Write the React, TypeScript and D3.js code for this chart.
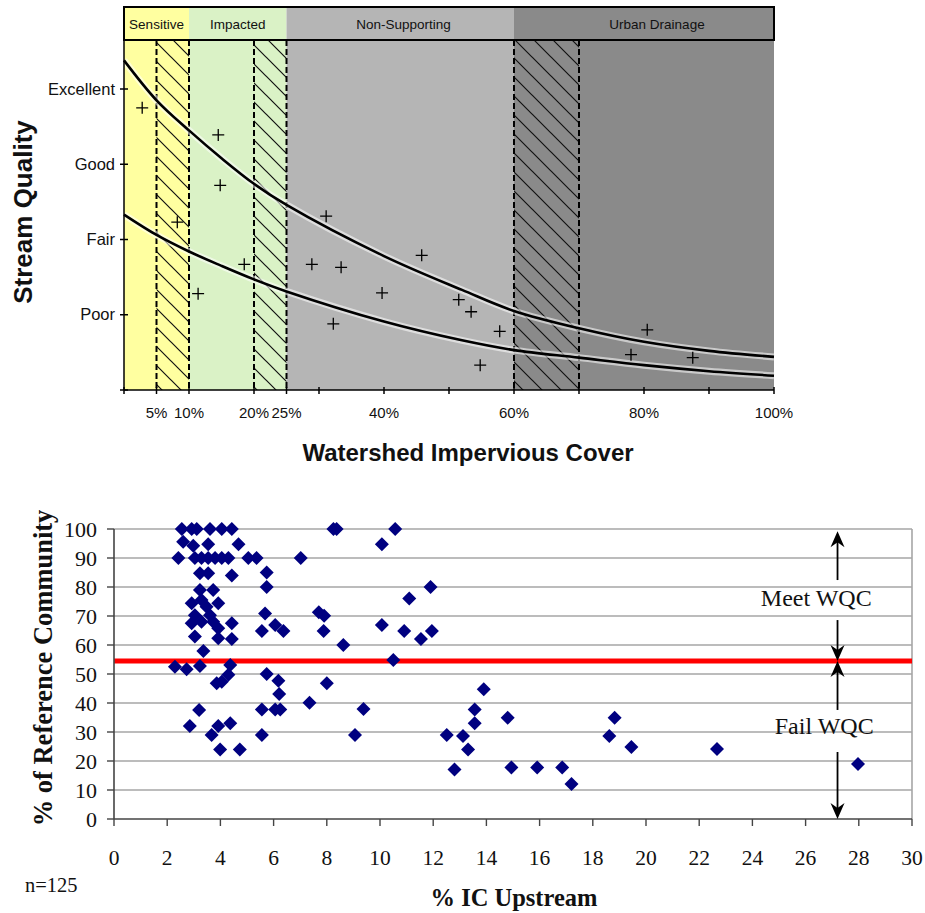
import { useMemo } from 'react';
import * as d3 from 'd3';

// ---- top panel: impervious cover model ----
const zoneNames = ['Sensitive', 'Impacted', 'Non-Supporting', 'Urban Drainage'];
const zoneStarts = [0, 10, 25, 60];
const zoneEnds = [10, 25, 60, 100];
const zoneLabelAt = [5, 17.5, 43, 82];
const zoneFills = ['#ffffa0', '#daf2c6', '#b5b5b5', '#8a8a8a'];
const hatchStarts = [5, 20, 60];
const hatchEnds = [10, 25, 70];
const dashedAt = [5, 10, 20, 25, 60, 70];
const coverTicks = [0, 5, 10, 20, 25, 30, 40, 50, 60, 70, 80, 90, 100];
const coverLabels = [5, 10, 20, 25, 40, 60, 80, 100];
const qualityTicks = [0, 1, 2, 3, 4];
const qualityNames = ['', 'Poor', 'Fair', 'Good', 'Excellent'];

const curvePct = [0, 5, 10, 15, 20, 25, 40, 52, 60, 70, 80, 90, 100];
const upperQuality = [4.38, 3.85, 3.45, 3.08, 2.74, 2.46, 1.78, 1.33, 1.05, 0.82, 0.64, 0.52, 0.44];
const lowerQuality = [2.33, 2.06, 1.84, 1.65, 1.47, 1.31, 0.91, 0.66, 0.53, 0.43, 0.33, 0.25, 0.19];

const sitePct = [2.8, 14.5, 14.8, 8.2, 18.5, 11.4, 31.1, 28.9, 33.4, 45.8, 39.7, 32.2, 51.5, 53.4, 57.8, 54.8, 80.5, 78.0, 87.5];
const siteQuality = [3.75, 3.39, 2.72, 2.23, 1.67, 1.28, 2.31, 1.67, 1.63, 1.79, 1.29, 0.88, 1.2, 1.04, 0.78, 0.33, 0.8, 0.47, 0.43];

// ---- bottom panel: % of reference community vs % IC upstream ----
const icUpstream = [
    2.55, 2.92, 3.11, 3.61, 4.05, 4.43, 8.25, 8.37, 10.57,
    2.6, 2.98, 3.54, 4.68, 10.07,
    2.42, 3.04, 3.29, 3.54, 3.8, 4.05, 4.3, 5.05, 5.36, 7.02,
    3.23, 3.54, 4.43, 5.74,
    5.74, 3.23, 3.73, 11.9, 11.1,
    2.92, 3.29, 3.48, 3.92, 3.04, 3.61, 2.92, 3.29, 3.73, 3.92, 4.43, 3.04, 3.92, 4.43, 3.36,
    5.68, 6.06, 5.56, 6.37, 7.7, 7.9, 7.88, 10.07, 10.91, 11.54, 11.95, 8.62, 10.5,
    2.29, 2.73, 3.23, 4.37, 4.3, 4.05, 3.86, 5.74, 6.18, 6.21, 5.56, 6.06, 6.25, 3.2, 2.85,
    3.92, 4.37, 3.67, 5.56, 3.99, 4.73,
    8.0, 7.35, 9.38, 9.06, 12.51,
    13.9, 13.56, 13.56, 13.12, 13.31, 12.8, 14.8, 14.94, 15.91, 16.85, 17.2, 18.82, 18.62, 19.45,
    22.67, 27.97,
];
const refCommunity = [
    100, 100, 100, 100, 100, 100, 100, 100, 100,
    95.6, 94.2, 94.7, 94.7, 94.7,
    90, 90, 90, 90, 90, 90, 90, 90, 90, 90,
    84.7, 84.7, 84, 85,
    80, 79, 79, 80, 76,
    74.4, 75.5, 73.2, 74.4, 70.3, 70.3, 67.5, 68, 68, 65.8, 67.5, 62.9, 62.3, 62.1, 57.9,
    70.9, 66.9, 64.8, 64.8, 71.3, 70.1, 64.8, 66.9, 64.8, 62.1, 64.8, 60, 54.8,
    52.5, 51.6, 52.8, 53.1, 49.7, 47.3, 46.8, 50, 47.7, 43.1, 37.8, 37.8, 37.8, 37.6, 32.1,
    32.1, 33, 29, 29, 24, 24,
    46.8, 40.1, 37.9, 29, 29,
    44.7, 37.8, 33, 28.6, 24, 17.1, 34.9, 17.8, 17.8, 17.8, 12.1, 34.9, 28.6, 24.8,
    24.1, 19,
];
const icTicks = d3.range(0, 31, 2);
const refTicks = d3.range(0, 101, 10);
const wqcThreshold = 54.5;
const arrowAt = 27.2;
// [from, to] — arrowhead at `to`
const arrowSegments: [number, number][] = [
    [82.4, 99.2],
    [68.6, 54.5],
    [37.6, 54.5],
    [23.1, 0],
];

const SANS = '"Liberation Sans", Arial, sans-serif';
const SERIF = '"Liberation Serif", "Times New Roman", serif';

function TopPanel() {
    const x = d3.scaleLinear().domain([0, 100]).range([124, 774]);
    const y = d3.scaleLinear().domain([0, 4]).range([390, 89]);
    const headTop = 7;
    const headBottom = 40;
    const plotBottom = 390;

    const line = d3
        .line<[number, number]>()
        .x((d) => x(d[0]))
        .y((d) => y(d[1]))
        .curve(d3.curveCatmullRom.alpha(0.5));
    const upper = line(curvePct.map((p, i) => [p, upperQuality[i]]));
    const lower = line(curvePct.map((p, i) => [p, lowerQuality[i]]));

    return (
        <g fontFamily={SANS}>
            <defs>
                <pattern id="hatch" patternUnits="userSpaceOnUse" width={19} height={19}>
                    <path
                        d="M-2,-2L21,21M-12,7L12,31M7,-12L31,12"
                        stroke="#111"
                        strokeWidth={1.2}
                    />
                </pattern>
            </defs>
            {zoneNames.map((name, i) => (
                <g key={name}>
                    <rect
                        x={x(zoneStarts[i])}
                        y={headTop}
                        width={x(zoneEnds[i]) - x(zoneStarts[i])}
                        height={plotBottom - headTop}
                        fill={zoneFills[i]}
                    />
                    <text
                        x={x(zoneLabelAt[i])}
                        y={29}
                        fontSize={13.5}
                        textAnchor="middle"
                        fill="#111"
                    >
                        {name}
                    </text>
                </g>
            ))}
            {hatchStarts.map((s, i) => (
                <rect
                    key={s}
                    x={x(s)}
                    y={headBottom}
                    width={x(hatchEnds[i]) - x(s)}
                    height={plotBottom - headBottom}
                    fill="url(#hatch)"
                />
            ))}
            {dashedAt.map((p) => (
                <line
                    key={p}
                    x1={x(p)}
                    x2={x(p)}
                    y1={headBottom}
                    y2={plotBottom}
                    stroke="#000"
                    strokeWidth={2}
                    strokeDasharray="6 3"
                />
            ))}
            <rect
                x={x(0)}
                y={headTop}
                width={x(100) - x(0)}
                height={headBottom - headTop}
                fill="none"
                stroke="#000"
                strokeWidth={2}
            />
            <path d={upper ?? ''} fill="none" stroke="#fff" strokeOpacity={0.55} strokeWidth={7} />
            <path d={lower ?? ''} fill="none" stroke="#fff" strokeOpacity={0.55} strokeWidth={7} />
            <path d={upper ?? ''} fill="none" stroke="#000" strokeWidth={2.6} />
            <path d={lower ?? ''} fill="none" stroke="#000" strokeWidth={2.6} />
            {sitePct.map((p, i) => {
                const cx = x(p);
                const cy = y(siteQuality[i]);
                return (
                    <path
                        key={i}
                        d={`M${cx - 6},${cy}h12M${cx},${cy - 6}v12`}
                        stroke="#000"
                        strokeWidth={1.3}
                    />
                );
            })}
            {/* axes */}
            <line x1={x(0)} x2={x(0)} y1={headBottom} y2={plotBottom} stroke="#000" strokeWidth={1.5} />
            <line x1={x(0)} x2={x(100)} y1={plotBottom} y2={plotBottom} stroke="#000" strokeWidth={1.5} />
            {qualityTicks.map((q) => (
                <g key={q}>
                    <line x1={x(0) - 4} x2={x(0) + 4} y1={y(q)} y2={y(q)} stroke="#000" strokeWidth={1.5} />
                    <text x={x(0) - 9} y={y(q) + 5.5} fontSize={16.5} textAnchor="end" fill="#111">
                        {qualityNames[q]}
                    </text>
                </g>
            ))}
            {coverTicks.map((p) => (
                <line key={p} x1={x(p)} x2={x(p)} y1={plotBottom - 3} y2={plotBottom + 4} stroke="#000" strokeWidth={1.5} />
            ))}
            {coverLabels.map((p) => (
                <text key={p} x={x(p)} y={418} fontSize={15} textAnchor="middle" fill="#111">
                    {p}%
                </text>
            ))}
            <text x={468} y={461} fontSize={24} fontWeight="bold" textAnchor="middle" fill="#111">
                Watershed Impervious Cover
            </text>
            <text
                transform="translate(32, 212) rotate(-90)"
                fontSize={26}
                fontWeight="bold"
                textAnchor="middle"
                fill="#111"
            >
                Stream Quality
            </text>
        </g>
    );
}

function BottomPanel() {
    const x = d3.scaleLinear().domain([0, 30]).range([114, 912]);
    const y = d3.scaleLinear().domain([0, 100]).range([819, 529]);

    const points = useMemo(
        () => icUpstream.map((ic, i) => ({ cx: x(ic), cy: y(refCommunity[i]) })),
        [x, y]
    );
    const r = 7;
    const head = (tipY: number, dir: number) => {
        const ax = x(arrowAt);
        return `M${ax},${tipY}L${ax - 7},${tipY + dir * 16}L${ax},${tipY + dir * 11}L${ax + 7},${tipY + dir * 16}Z`;
    };

    return (
        <g fontFamily={SERIF}>
            {refTicks.slice(1).map((t) => (
                <line key={t} x1={x(0)} x2={x(30)} y1={y(t)} y2={y(t)} stroke="#a6a6a6" strokeWidth={1.6} />
            ))}
            <line x1={x(30)} x2={x(30)} y1={y(100)} y2={y(0)} stroke="#a6a6a6" strokeWidth={1.6} />
            <line x1={x(0)} x2={x(30)} y1={y(wqcThreshold)} y2={y(wqcThreshold)} stroke="#ff0000" strokeWidth={5} />
            {points.map((p, i) => (
                <path
                    key={i}
                    d={`M${p.cx},${p.cy - r}L${p.cx + r},${p.cy}L${p.cx},${p.cy + r}L${p.cx - r},${p.cy}Z`}
                    fill="#000080"
                />
            ))}
            <line x1={x(0)} x2={x(0)} y1={y(100)} y2={y(0)} stroke="#444" strokeWidth={1.6} />
            <line x1={x(0)} x2={x(30)} y1={y(0)} y2={y(0)} stroke="#444" strokeWidth={1.6} />
            {refTicks.map((t) => (
                <g key={t}>
                    <line x1={x(0) - 7} x2={x(0)} y1={y(t)} y2={y(t)} stroke="#444" strokeWidth={1.4} />
                    <text x={97} y={y(t) + 7.5} fontSize={22} textAnchor="end" fill="#111">
                        {t}
                    </text>
                </g>
            ))}
            {icTicks.map((t) => (
                <g key={t}>
                    <line x1={x(t)} x2={x(t)} y1={y(0)} y2={y(0) + 7} stroke="#444" strokeWidth={1.4} />
                    <text x={x(t)} y={865} fontSize={21.5} textAnchor="middle" fill="#111">
                        {t}
                    </text>
                </g>
            ))}
            {arrowSegments.map(([from, to], i) => {
                const dir = to > from ? 1 : -1;
                return (
                    <g key={i}>
                        <line
                            x1={x(arrowAt)}
                            x2={x(arrowAt)}
                            y1={y(from)}
                            y2={y(to) + dir * 10}
                            stroke="#000"
                            strokeWidth={1.8}
                        />
                        <path d={head(y(to), dir)} fill="#000" />
                    </g>
                );
            })}
            <text x={x(26.4)} y={606} fontSize={24} textAnchor="middle" fill="#111">
                Meet WQC
            </text>
            <text x={x(26.7)} y={734} fontSize={24} textAnchor="middle" fill="#111">
                Fail WQC
            </text>
            <text x={25} y={892} fontSize={20.5} fill="#111">
                n=125
            </text>
            <text x={514} y={906} fontSize={24.5} fontWeight="bold" textAnchor="middle" fill="#111">
                % IC Upstream
            </text>
            <text
                transform="translate(52, 668) rotate(-90)"
                fontSize={26.5}
                fontWeight="bold"
                textAnchor="middle"
                fill="#111"
            >
                % of Reference Community
            </text>
        </g>
    );
}

export default function App() {
    return (
        <svg
            width={925}
            height={913}
            viewBox="0 0 925 913"
            style={{ position: 'absolute', left: 0, top: 0, background: '#fff' }}
        >
            <rect width={925} height={913} fill="#fff" />
            <TopPanel />
            <BottomPanel />
        </svg>
    );
}
